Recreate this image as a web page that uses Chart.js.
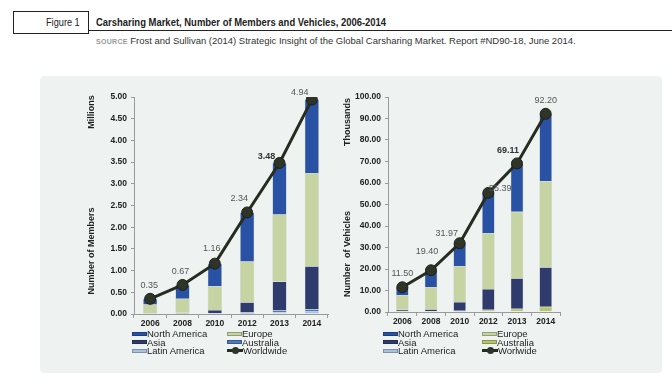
<!DOCTYPE html>
<html>
<head>
<meta charset="utf-8">
<script src="https://cdn.jsdelivr.net/npm/chart.js@4.4.1/dist/chart.umd.min.js"></script>
<style>
  html, body { margin: 0; padding: 0; background: #fff; }
  body { width: 672px; height: 390px; position: relative; overflow: hidden;
         font-family: "Liberation Sans", Arial, sans-serif; color: #222; }
  #figbox { position: absolute; left: 13px; top: 11px; width: 76px; height: 23px;
            border: 1px solid #222; box-sizing: border-box; }
  #figlabel { position: absolute; left: 46px; top: 17px; font-size: 10px; white-space: nowrap; transform-origin: left top; }
  #title { position: absolute; left: 96px; top: 16px; font-weight: bold; font-size: 10.5px; white-space: nowrap; transform-origin: left top; }
  #rule { position: absolute; left: 89px; top: 30px; width: 583px; height: 1px; background: #222; }
  #source { position: absolute; left: 96px; top: 35px; font-size: 9.5px; white-space: nowrap; color: #333; transform-origin: left top; }
  #source span { font-size: 7px; font-weight: bold; color: #999; letter-spacing: 0.3px; }
  #panel { position: absolute; left: 40px; top: 76px; width: 622px; height: 297px; background: #eef3f1; border-radius: 4px; }
  canvas { position: absolute; }
  #membersChart { left: 80px; top: 85px; }
  #vehiclesChart { left: 335px; top: 85px; }
  .legend { position: absolute; font-size: 9.5px; line-height: 8.5px; color: #222; }
  .legend .item { position: absolute; white-space: nowrap; }
  .legend .sw { display: inline-block; width: 15px; height: 4px; vertical-align: middle; margin-top: -1px; border: 0.5px solid rgba(0,0,0,0.25); box-sizing: border-box; }
  .legend .ln { display: inline-block; position: relative; width: 16px; height: 3px; vertical-align: middle; margin-top: -1px; }
  .legend .ln i { position: absolute; left: 5px; top: -2px; width: 7px; height: 7px; border-radius: 50%; }
</style>
</head>
<body>
<div id="figbox"></div>
<div id="figlabel">Figure 1</div>
<div id="title">Carsharing Market, Number of Members and Vehicles, 2006-2014</div>
<div id="rule"></div>
<div id="source"><span>SOURCE</span> Frost and Sullivan (2014) Strategic Insight of the Global Carsharing Market. Report #ND90-18, June 2014.</div>
<div id="panel"></div>
<canvas id="membersChart" width="255" height="247"></canvas>
<canvas id="vehiclesChart" width="232" height="245"></canvas>
<div class="legend" id="membersLegend"></div>
<div class="legend" id="vehiclesLegend"></div>
<script>
const years = ['2006', '2008', '2010', '2012', '2013', '2014'];

// members, millions
const membersNorthAmerica = [0.13, 0.32, 0.52, 1.13, 1.19, 1.69];
const membersEurope = [0.20, 0.32, 0.55, 0.94, 1.54, 2.15];
const membersAsia = [0.01, 0.02, 0.07, 0.23, 0.67, 0.99];
const membersAustralia = [0.005, 0.005, 0.01, 0.03, 0.04, 0.05];
const membersLatinAmerica = [0.005, 0.005, 0.01, 0.01, 0.04, 0.06];
const membersWorldwide = [0.35, 0.67, 1.16, 2.34, 3.48, 4.94];
const membersTicks = [0, 0.5, 1, 1.5, 2, 2.5, 3, 3.5, 4, 4.5, 5];

// vehicles, thousands
const vehiclesNorthAmerica = [3.75, 7.8, 10.57, 18.79, 22.51, 31.4];
const vehiclesEurope = [6.75, 10.3, 16.8, 25.9, 30.9, 40.0];
const vehiclesAsia = [0.5, 0.8, 4.0, 9.6, 14.2, 18.4];
const vehiclesAustralia = [0.3, 0.3, 0.4, 0.8, 1.2, 2.0];
const vehiclesLatinAmerica = [0.2, 0.2, 0.2, 0.3, 0.3, 0.4];
const vehiclesWorldwide = [11.50, 19.40, 31.97, 55.39, 69.11, 92.20];
const vehiclesTicks = [0, 10, 20, 30, 40, 50, 60, 70, 80, 90, 100];

const FONT = '"Liberation Sans", Arial, sans-serif';
const colors = {
    northAmerica: '#2a52a4',
    europe: '#c6d3a2',
    asia: '#2e3b6c',
    australiaBlue: '#4d78bd',
    australiaGreen: '#b6c66a',
    latinAmerica: '#a9c2de',
    worldwide: '#272c20'
};

// squeeze header text to the narrow width of the original typeface
function fitWidth(id, w) {
    const el = document.getElementById(id);
    el.style.transform = 'scaleX(' + (w / el.offsetWidth) + ')';
}
fitWidth('figlabel', 34);
fitWidth('title', 290);
fitWidth('source', 480);

const axisTitles = {
    id: 'axisTitles',
    afterDraw(chart, args, opts) {
        const ctx = chart.ctx;
        ctx.save();
        ctx.fillStyle = '#222';
        ctx.font = 'bold 9px ' + FONT;
        ctx.textAlign = 'center';
        ctx.textBaseline = 'middle';
        opts.items.forEach(it => {
            ctx.save();
            ctx.translate(it.x, chart.chartArea.top + it.y);
            ctx.rotate(-Math.PI / 2);
            ctx.fillText(it.text, 0, 0);
            ctx.restore();
        });
        ctx.restore();
    }
};

const valueLabels = {
    id: 'valueLabels',
    afterDatasetsDraw(chart, args, opts) {
        const idx = chart.data.datasets.findIndex(d => d.type === 'line');
        const meta = chart.getDatasetMeta(idx);
        const values = chart.data.datasets[idx].data;
        const ctx = chart.ctx;
        ctx.save();
        ctx.textAlign = 'center';
        ctx.textBaseline = 'middle';
        meta.data.forEach((pt, i) => {
            const off = opts.offsets[i];
            const bold = i === opts.boldIndex;
            ctx.fillStyle = bold ? '#333' : '#555';
            ctx.font = (bold ? 'bold ' : '') + '9px ' + FONT;
            ctx.fillText(values[i].toFixed(2), pt.x + off[0], pt.y + off[1]);
        });
        ctx.restore();
    }
};

function barSet(label, data, color) {
    return {
        type: 'bar', label: label, data: data, order: 1,
        backgroundColor: color, borderColor: 'rgba(0,0,0,0.18)', borderWidth: 0.5,
        barPercentage: 0.44, categoryPercentage: 1
    };
}

function lineSet(label, data) {
    return {
        type: 'line', label: label, data: data, order: 0, stack: 'total',
        borderColor: colors.worldwide, backgroundColor: colors.worldwide,
        borderWidth: 3, pointRadius: 5.5, pointBackgroundColor: '#2e3427',
        pointBorderColor: '#1c2016', pointBorderWidth: 1, tension: 0
    };
}

function makeChart(id, datasets, ticks, max, yWidth, titles, offsets, boldIndex) {
    return new Chart(document.getElementById(id), {
        data: { labels: years, datasets: datasets },
        options: {
            responsive: false,
            devicePixelRatio: 1,
            animation: false,
            layout: { padding: { top: 12, right: 7, left: 0, bottom: 0 } },
            plugins: {
                legend: { display: false },
                tooltip: { enabled: false },
                axisTitles: { items: titles },
                valueLabels: { offsets: offsets, boldIndex: boldIndex }
            },
            scales: {
                x: {
                    stacked: true,
                    grid: { display: true, drawOnChartArea: false, tickLength: 4, color: '#9a9a9a' },
                    border: { color: '#9a9a9a' },
                    ticks: { color: '#222', font: { family: FONT, size: 8.5, weight: 'bold' }, padding: 1 },
                    afterFit: s => { s.height = 18; }
                },
                y: {
                    stacked: true, min: 0, max: max,
                    afterBuildTicks: s => { s.ticks = ticks.map(v => ({ value: v })); },
                    grid: { drawOnChartArea: false, tickLength: 3, color: '#9a9a9a' },
                    border: { color: '#9a9a9a' },
                    ticks: {
                        color: '#222', padding: 4,
                        font: { family: FONT, size: 8.5, weight: 'bold' },
                        callback: v => v.toFixed(2)
                    },
                    afterFit: s => { s.width = yWidth; }
                }
            }
        },
        plugins: [axisTitles, valueLabels]
    });
}

const membersChart = makeChart('membersChart', [
    barSet('Latin America', membersLatinAmerica, colors.latinAmerica),
    barSet('Australia', membersAustralia, colors.australiaBlue),
    barSet('Asia', membersAsia, colors.asia),
    barSet('Europe', membersEurope, colors.europe),
    barSet('North America', membersNorthAmerica, colors.northAmerica),
    lineSet('Worldwide', membersWorldwide)
], membersTicks, 5, 54,
    [{ text: 'Millions', x: 12, y: 15 }, { text: 'Number of Members', x: 12, y: 154 }],
    [[-1, -13], [-2, -13], [-3, -15], [-8, -14], [-13, -6], [-12, -7]], 4);

const vehiclesChart = makeChart('vehiclesChart', [
    barSet('Latin America', vehiclesLatinAmerica, colors.latinAmerica),
    barSet('Australia', vehiclesAustralia, colors.australiaGreen),
    barSet('Asia', vehiclesAsia, colors.asia),
    barSet('Europe', vehiclesEurope, colors.europe),
    barSet('North America', vehiclesNorthAmerica, colors.northAmerica),
    lineSet('Worlwide', vehiclesWorldwide)
], vehiclesTicks, 100, 53,
    [{ text: 'Thousands', x: 13, y: 25 }, { text: 'Number  of Vehicles', x: 13, y: 157 }],
    [[0, -14], [-4, -19], [-13, -10], [12, -4], [-9, -13], [0, -13]], 4);

// two-column legend built from the chart datasets
const legendOrder = ['North America', 'Europe', 'Asia', 'Australia', 'Latin America'];
function buildLegend(chart, elId, left, top, colX) {
    const el = document.getElementById(elId);
    el.style.left = left + 'px';
    el.style.top = top + 'px';
    const sets = chart.data.datasets;
    const ordered = legendOrder.map(n => sets.find(d => d.label === n));
    ordered.push(sets.find(d => d.type === 'line'));
    ordered.forEach((d, i) => {
        const item = document.createElement('div');
        item.className = 'item';
        item.style.left = colX[i % 2] + 'px';
        item.style.top = Math.floor(i / 2) * 8.5 + 'px';
        let sw;
        if (d.type === 'line') {
            sw = '<span class="ln" style="background:' + d.borderColor + '"><i style="background:' + d.pointBackgroundColor + '"></i></span>';
        } else {
            sw = '<span class="sw" style="background:' + d.backgroundColor + '"></span>';
        }
        item.innerHTML = sw + '<span>' + d.label + '</span>';
        el.appendChild(item);
    });
}
buildLegend(membersChart, 'membersLegend', 132, 330, [0, 95]);
buildLegend(vehiclesChart, 'vehiclesLegend', 383, 330, [0, 99]);
</script>
</body>
</html>
